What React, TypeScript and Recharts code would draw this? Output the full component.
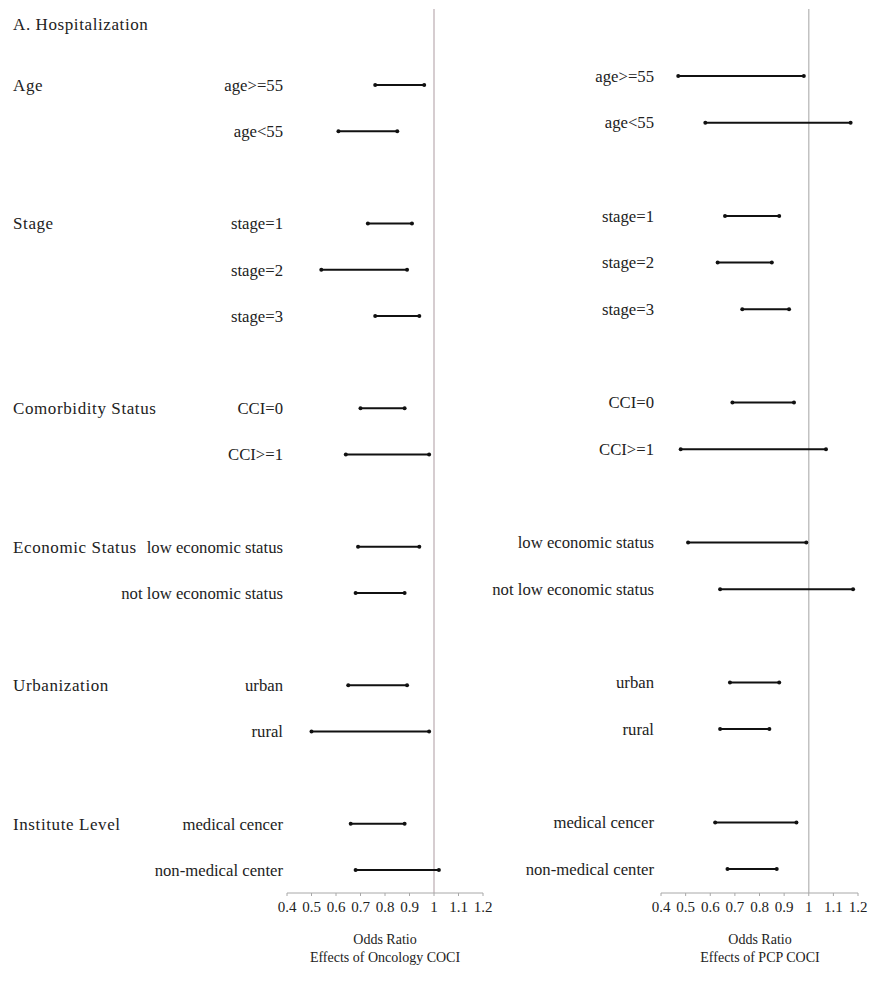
import { ScatterChart, Scatter, XAxis, YAxis, ReferenceLine } from "recharts"

const groups = [
  "Age",
  "Stage",
  "Comorbidity Status",
  "Economic Status",
  "Urbanization",
  "Institute Level",
]

const subgroups = [
  ["age>=55", "age<55"],
  ["stage=1", "stage=2", "stage=3"],
  ["CCI=0", "CCI>=1"],
  ["low economic status", "not low economic status"],
  ["urban", "rural"],
  ["medical cencer", "non-medical center"],
]

// 95% CI bounds, one value per subgroup row (top to bottom)
const oncologyLow = [0.76, 0.61, 0.73, 0.54, 0.76, 0.7, 0.64, 0.69, 0.68, 0.65, 0.5, 0.66, 0.68]
const oncologyHigh = [0.96, 0.85, 0.91, 0.89, 0.94, 0.88, 0.98, 0.94, 0.88, 0.89, 0.98, 0.88, 1.02]
const pcpLow = [0.47, 0.58, 0.66, 0.63, 0.73, 0.69, 0.48, 0.51, 0.64, 0.68, 0.64, 0.62, 0.67]
const pcpHigh = [0.98, 1.17, 0.88, 0.85, 0.92, 0.94, 1.07, 0.99, 1.18, 0.88, 0.84, 0.95, 0.87]

const oddsTicks = [0.4, 0.5, 0.6, 0.7, 0.8, 0.9, 1, 1.1, 1.2]

const FONT = '"Liberation Serif", "DejaVu Serif", serif'
const W = 869
const H = 988

type Row = { slot: number; label: string; group?: string }

// one slot per subgroup, plus an empty slot after each group
const rows: Row[] = []
let slot = 0
groups.forEach((g, gi) => {
  subgroups[gi].forEach((label, i) => {
    rows.push({ slot, label, group: i === 0 ? g : undefined })
    slot++
  })
  slot++
})

const dot = (p: any) => <circle cx={p.cx} cy={p.cy} r={2} fill="#111" />

type PanelProps = {
  low: number[]
  high: number[]
  plotLeft: number
  plotRight: number
  yDomain: [number, number]
  showGroups: boolean
  labelGap: number
  refColor: string
}

function Panel({ low, high, plotLeft, plotRight, yDomain, showGroups, labelGap, refColor }: PanelProps) {
  const tick = (props: any) => {
    const row = rows.find((r) => r.slot === props.payload.value)
    if (!row) return <g />
    return (
      <g>
        <text x={props.x} y={props.y} dy="0.35em" textAnchor="end" fill="#222" fontSize={16.7}>
          {row.label}
        </text>
        {showGroups && row.group && (
          <text
            x={13}
            y={props.y}
            dy="0.35em"
            textAnchor="start"
            fill="#222"
            fontSize={17}
            letterSpacing={0.6}
          >
            {row.group}
          </text>
        )}
      </g>
    )
  }

  return (
    <div style={{ position: "absolute", left: 0, top: 0 }}>
      <ScatterChart
        width={W}
        height={H}
        margin={{ top: 9, right: W - plotRight, bottom: 55, left: plotLeft - 200 }}
      >
        <XAxis
          type="number"
          dataKey="x"
          domain={[0.4, 1.2]}
          ticks={oddsTicks}
          interval={0}
          allowDataOverflow
          height={40}
          stroke="#a8a8a8"
          tickSize={3}
          tickMargin={5}
          tick={{ fill: "#222", fontSize: 15 }}
        />
        <YAxis
          type="number"
          dataKey="y"
          domain={yDomain}
          reversed
          allowDataOverflow
          ticks={rows.map((r) => r.slot)}
          interval={0}
          width={200}
          axisLine={false}
          tickLine={false}
          tickSize={labelGap}
          tickMargin={0}
          tick={tick}
        />
        <ReferenceLine x={1} stroke={refColor} strokeWidth={1.5} />
        {rows.map((r, i) => (
          <Scatter
            key={r.label}
            data={[
              { x: low[i], y: r.slot },
              { x: high[i], y: r.slot },
            ]}
            line={{ stroke: "#111", strokeWidth: 2 }}
            shape={dot}
            isAnimationActive={false}
          />
        ))}
      </ScatterChart>
    </div>
  )
}

export default function App() {
  const caption = (left: number, lines: string[]) => (
    <div
      style={{
        position: "absolute",
        left,
        top: 931,
        width: 200,
        textAlign: "center",
        fontSize: 14,
        lineHeight: "18px",
        color: "#222",
      }}
    >
      {lines.map((l) => (
        <div key={l}>{l}</div>
      ))}
    </div>
  )

  return (
    <div
      style={{
        position: "absolute",
        left: 0,
        top: 0,
        width: W,
        height: H,
        background: "#fff",
        fontFamily: FONT,
        overflow: "hidden",
      }}
    >
      <div
        style={{
          position: "absolute",
          left: 13,
          top: 16,
          fontSize: 17,
          letterSpacing: 0.6,
          lineHeight: "18px",
          color: "#222",
        }}
      >
        A. Hospitalization
      </div>
      <Panel
        low={oncologyLow}
        high={oncologyHigh}
        plotLeft={287}
        plotRight={483}
        yDomain={[-1.646, 17.497]}
        showGroups
        labelGap={4}
        refColor="#c9bcc0"
      />
      <Panel
        low={pcpLow}
        high={pcpHigh}
        plotLeft={661}
        plotRight={858}
        yDomain={[-1.436, 17.513]}
        showGroups={false}
        labelGap={7}
        refColor="#c2c2c2"
      />
      {caption(285, ["Odds Ratio", "Effects of Oncology COCI"])}
      {caption(660, ["Odds Ratio", "Effects of PCP COCI"])}
    </div>
  )
}
